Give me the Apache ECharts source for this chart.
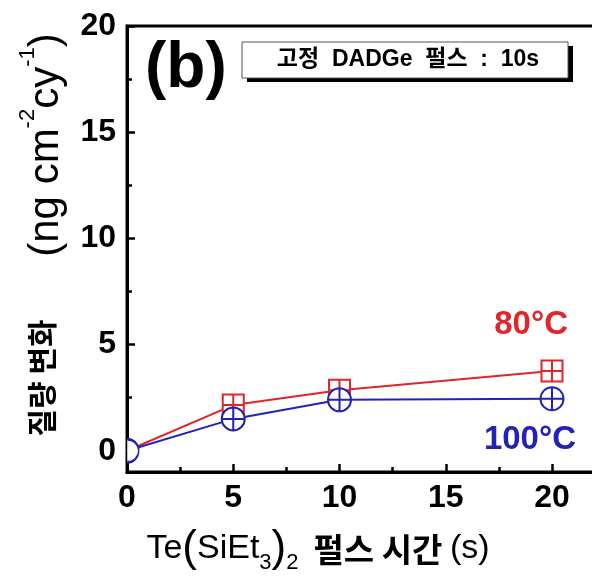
<!DOCTYPE html>
<html>
<head>
<meta charset="utf-8">
<script src="https://cdn.jsdelivr.net/npm/echarts@6/dist/echarts.min.js"></script>
<style>
html,body{margin:0;padding:0;background:#fff;}
#chart{width:592px;height:578px;}
</style>
</head>
<body>
<div id="chart"></div>
<script>
// ---- data ----
const pulseTimes = [0, 5, 10, 20];
const mass80C = [0, 2.15, 2.85, 3.75];
const mass100C = [0, 1.5, 2.4, 2.45];
const seriesNames = ['80°C', '100°C'];
const xTicks = [0, 5, 10, 15, 20];
const yTicks = [0, 5, 10, 15, 20];

const RED = '#e0252c';
const BLUE = '#2222b8';
const FONT = "'Liberation Sans', 'Noto Sans CJK KR', sans-serif";

const chart = echarts.init(document.getElementById('chart'), null, {renderer: 'canvas'});

// grid geometry
const gLeft = 127, gTop = 26, gBottom = 472;
const yMin = -1, yMax = 20;
const xMax = 25;
const pxPerY = (gBottom - gTop) / (yMax - yMin);
const gHeight = gBottom - gTop;
const gWidth = xMax * 21.25;
const labelGridHeight = (yMax - 0) * pxPerY;

const squarePlus = 'path://M0,0L20,0L20,20L0,20Z M10,0L10,20 M0,10L20,10';
const circlePlus = 'path://M0,10A10,10,0,1,1,20,10A10,10,0,1,1,0,10Z M10,0L10,20 M0,10L20,10';
const halfCircle = 'path://M0,0C5.523,0,10,4.477,10,10C10,15.523,5.523,20,0,20';

function toPairs(xs, ys) { return xs.map((x, i) => [x, ys[i]]); }

const redData = toPairs(pulseTimes, mass80C).map((p, i) =>
  i === 0 ? {value: p, symbol: 'none'} : {value: p});
const blueData = toPairs(pulseTimes, mass100C).map((p, i) =>
  i === 0 ? {value: p, symbol: halfCircle, symbolSize: [11.5, 23], symbolOffset: [6, 0]} : {value: p});

const tickStyle = {color: '#000', width: 2.5};

const option = {
  animation: false,
  backgroundColor: '#fff',
  grid: [
    {left: gLeft, top: gTop, width: gWidth, height: gHeight, show: true, borderColor: '#000', borderWidth: 3,
     backgroundColor: 'transparent', containLabel: false, outerBoundsMode: 'none'},
    {left: gLeft, top: gTop, width: gWidth, height: labelGridHeight, show: false, containLabel: false, outerBoundsMode: 'none'}
  ],
  xAxis: [
    {type: 'value', gridIndex: 0, min: 0, max: xMax, interval: 5,
     axisLine: {show: true, onZero: false, lineStyle: {color: '#000', width: 3}},
     axisTick: {show: true, inside: true, length: 8, lineStyle: tickStyle},
     minorTick: {show: true, splitNumber: 2, length: 5, lineStyle: tickStyle},
     splitLine: {show: false},
     axisLabel: {show: true, fontSize: 32, fontWeight: 'bold', color: '#000', margin: 10, fontFamily: FONT,
       formatter: v => (xTicks.indexOf(v) >= 0 ? String(v) : '')}},
    {type: 'value', gridIndex: 1, min: 0, max: xMax, show: false, axisLine: {show: false, onZero: false}}
  ],
  yAxis: [
    {type: 'value', gridIndex: 0, min: yMin, max: yMax,
     axisLine: {show: true, onZero: false, lineStyle: {color: '#000', width: 3}},
     axisTick: {show: false}, axisLabel: {show: false}, splitLine: {show: false}},
    {type: 'value', gridIndex: 1, min: 0, max: 20, interval: 5,
     axisLine: {show: false, onZero: false},
     axisTick: {show: true, inside: true, length: 8, lineStyle: tickStyle},
     minorTick: {show: true, splitNumber: 2, length: 5, lineStyle: tickStyle},
     splitLine: {show: false},
     axisLabel: {show: true, fontSize: 32, fontWeight: 'bold', color: '#000', margin: 11, fontFamily: FONT,
       formatter: v => (yTicks.indexOf(v) >= 0 ? String(v) : '')}}
  ],
  series: [
    {name: seriesNames[0], type: 'line', xAxisIndex: 0, yAxisIndex: 0, data: redData,
     symbol: squarePlus, symbolSize: 21,
     itemStyle: {color: '#fff', borderColor: RED, borderWidth: 2},
     lineStyle: {color: RED, width: 2}},
    {name: seriesNames[1], type: 'line', xAxisIndex: 0, yAxisIndex: 0, data: blueData,
     symbol: circlePlus, symbolSize: 23,
     itemStyle: {color: '#fff', borderColor: BLUE, borderWidth: 2},
     lineStyle: {color: BLUE, width: 2}}
  ],
  graphic: [
    {type: 'text', left: 145, top: 37, style: {text: '(b)', font: "bold 64px " + FONT, fill: '#000'}},
    {type: 'rect', shape: {x: 247, y: 46, width: 326, height: 36}, style: {fill: '#000'}},
    {type: 'rect', shape: {x: 242, y: 42, width: 326, height: 36}, style: {fill: '#fff', stroke: '#555', lineWidth: 1}},
    {type: 'text', x: 408, y: 60, style: {text: '고정  DADGe  펄스  :  10s', font: "bold 23px " + FONT, fill: '#000', align: 'center', verticalAlign: 'middle'}},
    {type: 'text', x: 568, y: 325, style: {text: seriesNames[0], font: "bold 33px " + FONT, fill: RED, align: 'right', verticalAlign: 'middle'}},
    {type: 'text', x: 576, y: 440, style: {text: seriesNames[1], font: "bold 33px " + FONT, fill: BLUE, align: 'right', verticalAlign: 'middle'}},
    // y axis title
    {type: 'text', x: 42, y: 378, rotation: Math.PI / 2,
     style: {text: '질량 변화', font: "bold 30px 'Noto Sans CJK KR'", fill: '#000', align: 'center', verticalAlign: 'middle'}},
    {type: 'text', x: 42, y: 145, rotation: Math.PI / 2,
     style: {text: '{l|(ng cm}{s|-2}{l|cy}{s|-1}{l|)}', align: 'center', verticalAlign: 'middle',
       rich: {
         l: {fontSize: 42, fontFamily: FONT, color: '#000', lineHeight: 50, verticalAlign: 'bottom'},
         s: {fontSize: 22, fontFamily: FONT, color: '#000', lineHeight: 50, verticalAlign: 'top'}
       }}},
    // x axis title
    {type: 'text', x: 318, y: 549,
     style: {text: '{l|Te}{p|(}{l|SiEt}{b|3}{p|)}{b|2}{k|  펄스 시간 }{l|(s)}', align: 'center', verticalAlign: 'middle',
       rich: {
         l: {fontSize: 34, fontFamily: FONT, color: '#000', lineHeight: 50, verticalAlign: 'middle'},
         p: {fontSize: 44, fontFamily: FONT, color: '#000', lineHeight: 50, verticalAlign: 'middle'},
         b: {fontSize: 22, fontFamily: FONT, color: '#000', lineHeight: 50, verticalAlign: 'bottom'},
         k: {fontSize: 33, fontFamily: "'Noto Sans CJK KR'", fontWeight: 'bold', color: '#000', lineHeight: 50, verticalAlign: 'middle'}
       }}}
  ]
};
chart.setOption(option);
</script>
</body>
</html>
